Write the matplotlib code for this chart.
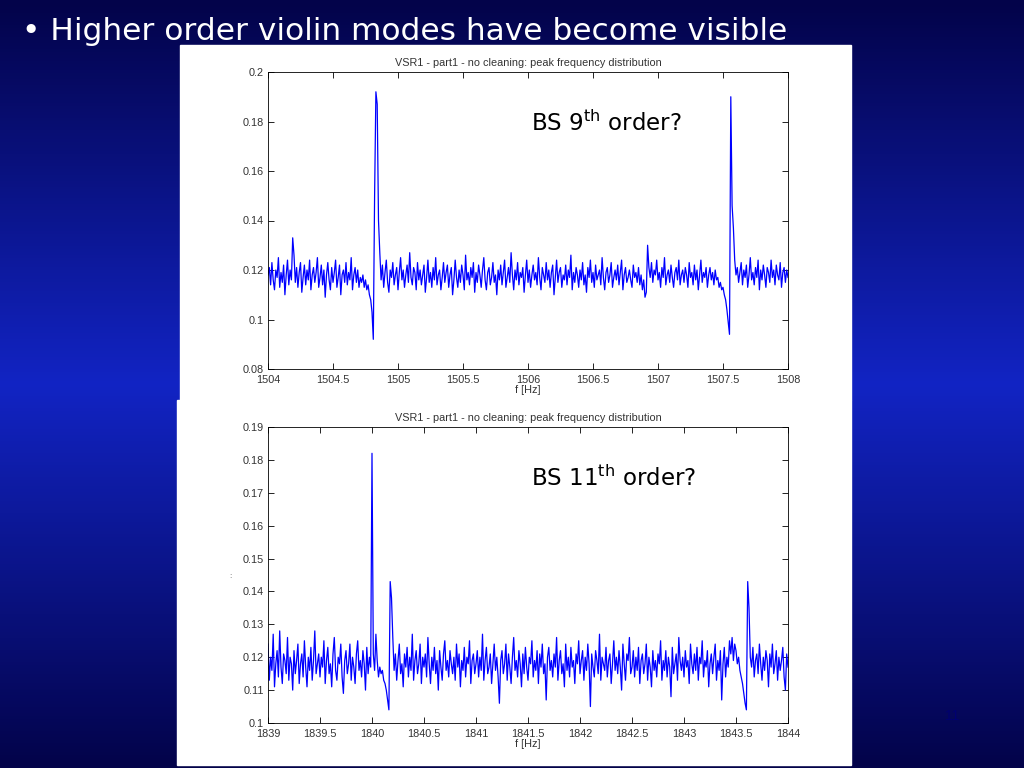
#!/usr/bin/env python3
"""Slide: higher order violin modes (VSR1 part1 peak frequency distribution)."""
import numpy as np
import matplotlib
matplotlib.use("Agg")
import matplotlib.pyplot as plt
from matplotlib.colors import LinearSegmentedColormap

LINE = "#0000ff"
TICK_TXT = "#333333"

TITLE = "VSR1 - part1 - no cleaning: peak frequency distribution"

# --- top panel: 1504..1508 Hz, 0.01 Hz bins, values in thousandths ---
TOP_F0, TOP_DF = 1504.0, 0.01
TOP_VALS = [
    118, 121, 114, 123, 116, 112, 120, 117, 125, 113, 119, 115, 122, 110, 118, 124, 114, 120, 116, 133,
    126, 115, 121, 113, 119, 123, 111, 117, 122, 114, 120, 116, 124, 112, 118, 121, 115, 119, 125, 113,
    117, 122, 114, 120, 109, 118, 123, 116, 112, 121, 115, 119, 124, 113, 117, 122, 110, 118, 120, 115,
    123, 114, 119, 116, 125, 112, 118, 121, 115, 120, 113, 117, 115, 118, 113, 116, 112, 114, 110, 108,
    103, 92, 150, 192, 187, 140, 127, 116, 122, 113, 119, 124, 115, 111, 120, 117, 123, 114, 118, 121,
    112, 119, 125, 116, 120, 113, 118, 122, 115, 127, 117, 114, 121, 119, 112, 123, 116, 120, 114, 118,
    122, 111, 117, 124, 115, 119, 113, 121, 116, 125, 114, 118, 120, 112, 117, 123, 115, 119, 122, 113,
    118, 121, 110, 116, 124, 117, 113, 120, 115, 122, 118, 112, 126, 116, 119, 114, 121, 117, 123, 111,
    119, 115, 122, 118, 113, 120, 125, 116, 112, 119, 121, 114, 117, 123, 115, 118, 110, 120, 116, 122,
    114, 119, 124, 113, 117, 121, 115, 127, 118, 112, 120, 116, 123, 114, 119, 117, 121, 111, 118, 124,
    115, 120, 113, 118, 122, 116, 119, 114, 125, 117, 112, 121, 118, 115, 123, 116, 120, 113, 119, 122,
    110, 117, 124, 115, 119, 121, 113, 118, 116, 122, 114, 120, 117, 126, 112, 119, 115, 121, 118, 113,
    120, 116, 123, 114, 118, 111, 121, 117, 124, 115, 119, 113, 122, 116, 118, 120, 114, 125, 117, 112,
    119, 121, 115, 118, 123, 113, 117, 120, 116, 122, 114, 119, 124, 112, 118, 121, 115, 117, 120, 116,
    113, 122, 117, 119, 115, 121, 114, 118, 112, 116, 109, 111, 130, 121, 117, 123, 115, 120, 118, 124,
    116, 119, 113, 121, 117, 125, 114, 118, 120, 115, 122, 117, 113, 119, 121, 116, 124, 114, 118, 120,
    115, 121, 118, 113, 123, 117, 119, 114, 122, 116, 120, 112, 118, 124, 115, 119, 117, 121, 113, 118,
    121, 116, 119, 114, 120, 116, 117, 113, 115, 112, 113, 110, 108, 104, 99, 94, 190, 146, 137, 124,
    118, 121, 115, 119, 123, 114, 120, 117, 122, 113, 118, 125, 116, 119, 114, 121, 117, 124, 112, 120,
    116, 122, 118, 113, 121, 119, 115, 124, 117, 120, 114, 122, 118, 116, 123, 113, 119, 121, 115, 120,
    117,
]
TOP_XTICKS = [1504, 1504.5, 1505, 1505.5, 1506, 1506.5, 1507, 1507.5, 1508]
TOP_XLABELS = ["1504", "1504.5", "1505", "1505.5", "1506", "1506.5", "1507", "1507.5", "1508"]
TOP_YTICKS = [0.08, 0.1, 0.12, 0.14, 0.16, 0.18, 0.2]
TOP_YLABELS = ["0.08", "0.1", "0.12", "0.14", "0.16", "0.18", "0.2"]

# --- bottom panel: 1839..1844 Hz, 0.0125 Hz bins, values in thousandths ---
BOT_F0, BOT_DF = 1839.0, 0.0125
BOT_VALS = [
    124, 113, 120, 116, 127, 111, 118, 122, 114, 128, 117, 112, 121, 119, 115, 126, 113, 120, 118, 110,
    122, 115, 119, 124, 112, 118, 121, 114, 125, 117, 111, 120, 116, 123, 113, 119, 128, 115, 118, 121,
    114, 120, 117, 125, 112, 119, 123, 115, 118, 111, 121, 126, 116, 113, 120, 118, 124, 114, 109, 119,
    122, 115, 118, 124, 113, 120, 117, 112, 121, 125, 116, 119, 114, 122, 118, 110, 123, 115, 120, 117,
    182, 121, 116, 127, 119, 114, 117, 115, 116, 113, 112, 110, 107, 104, 143, 138, 126, 116, 121, 113,
    119, 124, 115, 118, 111, 121, 117, 123, 114, 120, 116, 127, 113, 119, 122, 115, 118, 124, 112, 120,
    117, 121, 114, 126, 118, 112, 120, 116, 123, 115, 119, 110, 122, 117, 113, 121, 125, 116, 119, 114,
    122, 118, 115, 120, 113, 124, 117, 121, 111, 119, 116, 123, 114, 120, 118, 125, 112, 119, 121, 115,
    118, 122, 114, 120, 116, 127, 113, 119, 123, 115, 117, 121, 112, 118, 124, 116, 120, 114, 106, 119,
    122, 115, 118, 124, 113, 121, 117, 112, 120, 126, 116, 119, 114, 122, 118, 111, 121, 115, 123, 117,
    113, 120, 118, 125, 114, 119, 116, 122, 112, 121, 117, 124, 115, 118, 107, 120, 123, 116, 119, 114,
    121, 117, 126, 113, 119, 122, 115, 118, 111, 124, 116, 120, 114, 123, 117, 119, 112, 121, 118, 125,
    115, 119, 122, 113, 120, 116, 124, 118, 105, 121, 117, 114, 122, 119, 115, 127, 113, 120, 118, 116,
    123, 114, 119, 121, 112, 118, 125, 116, 120, 115, 122, 117, 110, 124, 118, 113, 121, 119, 126, 115,
    117, 122, 114, 120, 116, 123, 112, 119, 121, 115, 118, 124, 113, 120, 117, 111, 122, 116, 119, 114,
    121, 118, 125, 113, 119, 116, 122, 114, 120, 117, 108, 123, 115, 118, 121, 113, 126, 119, 116, 120,
    114, 122, 117, 119, 112, 124, 118, 115, 121, 116, 123, 113, 120, 118, 125, 114, 119, 117, 122, 111,
    118, 121, 115, 120, 124, 113, 119, 116, 122, 107, 118, 123, 114, 120, 117, 125, 121, 126, 119, 124,
    122, 118, 120, 116, 114, 112, 109, 106, 104, 143, 135, 120, 117, 123, 114, 119, 121, 115, 124, 118,
    113, 120, 116, 122, 119, 111, 121, 117, 124, 115, 118, 122, 113, 120, 116, 119, 123, 114, 110, 121,
    117,
]
BOT_XTICKS = [1839, 1839.5, 1840, 1840.5, 1841, 1841.5, 1842, 1842.5, 1843, 1843.5, 1844]
BOT_XLABELS = ["1839", "1839.5", "1840", "1840.5", "1841", "1841.5", "1842", "1842.5",
               "1843", "1843.5", "1844"]
BOT_YTICKS = [0.1, 0.11, 0.12, 0.13, 0.14, 0.15, 0.16, 0.17, 0.18, 0.19]
BOT_YLABELS = ["0.1", "0.11", "0.12", "0.13", "0.14", "0.15", "0.16", "0.17", "0.18", "0.19"]

plt.rcParams["font.family"] = ["Liberation Sans", "DejaVu Sans"]

fig = plt.figure(figsize=(10.24, 7.68), dpi=100)

# slide background: navy -> bright blue -> navy
bg = fig.add_axes([0, 0, 1, 1], zorder=-10)
cmap = LinearSegmentedColormap.from_list(
    "slide", [(0.0, "#03034a"), (0.5, "#1224c4"), (1.0, "#03034a")])
bg.imshow(np.linspace(0, 1, 256).reshape(-1, 1), aspect="auto", cmap=cmap,
          extent=[0, 1, 0, 1], origin="upper")
bg.set_axis_off()

# white plot panels
fig.patches.append(plt.Rectangle((180 / 1024, 1 - 400 / 768), 671 / 1024, 355 / 768,
                                 transform=fig.transFigure, color="white", zorder=-5))
fig.patches.append(plt.Rectangle((177 / 1024, 1 - 765 / 768), 674 / 1024, 365 / 768,
                                 transform=fig.transFigure, color="white", zorder=-5))


def panel(rect, f0, df, vals, xticks, xlabels, yticks, ylabels, note):
    ax = fig.add_axes(rect)
    f = f0 + df * np.arange(len(vals))
    y = np.array(vals) / 1000.0
    ax.plot(f, y, color=LINE, linewidth=0.9)
    ax.set_xlim(xticks[0], xticks[-1])
    ax.set_ylim(yticks[0], yticks[-1])
    ax.set_xticks(xticks)
    ax.set_xticklabels(xlabels)
    ax.set_yticks(yticks)
    ax.set_yticklabels(ylabels)
    ax.tick_params(direction="in", top=True, right=True, length=4, width=0.6,
                   labelsize=7.8, labelcolor=TICK_TXT)
    ax.tick_params(axis="x", pad=4)
    ax.tick_params(axis="y", pad=3)
    for s in ax.spines.values():
        s.set_linewidth(0.6)
    ax.set_title(TITLE, fontsize=7.8, color=TICK_TXT, pad=4)
    ax.set_xlabel("f [Hz]", fontsize=7.8, color=TICK_TXT, labelpad=0)
    ax.text(0.505, 0.80, note, transform=ax.transAxes, fontsize=16.5, color="black",
            family="DejaVu Sans")
    return ax


panel([268 / 1024, 1 - 369 / 768, 520 / 1024, 297 / 768], TOP_F0, TOP_DF, TOP_VALS,
      TOP_XTICKS, TOP_XLABELS, TOP_YTICKS, TOP_YLABELS, r"BS 9$^{\mathrm{th}}$ order?")
panel([268 / 1024, 1 - 723 / 768, 520 / 1024, 296 / 768], BOT_F0, BOT_DF, BOT_VALS,
      BOT_XTICKS, BOT_XLABELS, BOT_YTICKS, BOT_YLABELS, r"BS 11$^{\mathrm{th}}$ order?")

fig.text(230 / 1024, 1 - 577 / 768, ":", fontsize=6, color="#555555", ha="center", va="center")

fig.text(22 / 1024, 1 - 32 / 768, "\u2022 Higher order violin modes have become visible",
         fontsize=22.5, color="white", va="center", ha="left", family="DejaVu Sans")
fig.text(952 / 1024, 1 - 716 / 768, "11", fontsize=10, color="#000070", ha="center",
         va="center")

fig.savefig("out.png", dpi=100)
